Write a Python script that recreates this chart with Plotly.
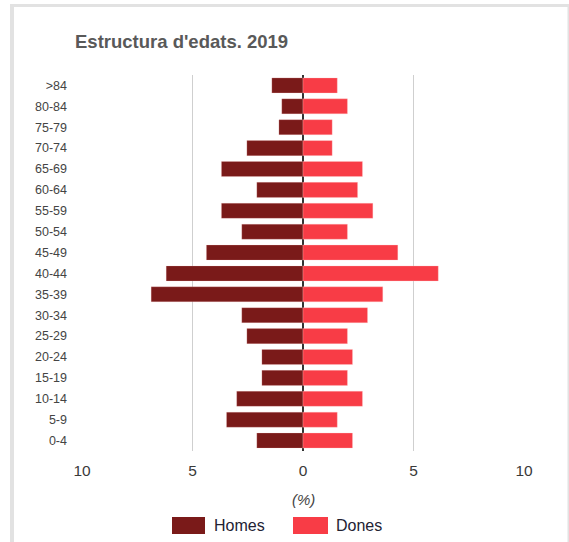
import plotly.graph_objects as go

age_groups = ["0-4", "5-9", "10-14", "15-19", "20-24", "25-29", "30-34", "35-39",
              "40-44", "45-49", "50-54", "55-59", "60-64", "65-69", "70-74",
              "75-79", "80-84", ">84"]
homes = [2.09, 3.46, 3.0, 1.86, 1.86, 2.54, 2.77, 6.87, 6.19, 4.37, 2.77, 3.69,
         2.09, 3.69, 2.54, 1.09, 0.96, 1.41]
dones = [2.24, 1.55, 2.69, 2.01, 2.24, 2.01, 2.92, 3.61, 6.12, 4.29, 2.01, 3.16,
         2.47, 2.69, 1.32, 1.32, 2.01, 1.55]
x_ticks = [-10, -5, 0, 5, 10]
x_tick_labels = ["10", "5", "0", "5", "10"]

COL_H = "#7A1A19"
COL_D = "#F83C46"
FONT = "Arial, Liberation Sans, sans-serif"

W, H = 569, 542
ML, MR, MT, MB = 82, 45, 75, 91
PW = W - ML - MR
PH = H - MT - MB

def px(x):
    return (x - ML) / PW

def py(y):
    return (H - MB - y) / PH

fig = go.Figure()
fig.add_trace(go.Bar(
    y=age_groups, x=[-v for v in homes], orientation="h", name="Homes",
    marker=dict(color=COL_H, line=dict(color="rgba(255,200,200,0.35)", width=0.6)),
    width=0.72, showlegend=False,
))
fig.add_trace(go.Bar(
    y=age_groups, x=dones, orientation="h", name="Dones",
    marker=dict(color=COL_D, line=dict(color="rgba(255,200,200,0.5)", width=0.6)),
    width=0.72, showlegend=False,
))

shapes = [
    # card border
    dict(type="rect", xref="paper", yref="paper", x0=px(10), x1=px(14), y0=py(542), y1=py(4),
         fillcolor="#e2e2e2", line=dict(width=0), layer="below"),
    dict(type="rect", xref="paper", yref="paper", x0=px(10), x1=px(569), y0=py(7), y1=py(4),
         fillcolor="#e2e2e2", line=dict(width=0), layer="below"),
    dict(type="rect", xref="paper", yref="paper", x0=px(567.5), x1=px(569), y0=py(542), y1=py(4),
         fillcolor="#e2e2e2", line=dict(width=0), layer="below"),
    # legend swatches
    dict(type="rect", xref="paper", yref="paper", x0=px(172), x1=px(205), y0=py(534), y1=py(517),
         fillcolor=COL_H, line=dict(width=0)),
    dict(type="rect", xref="paper", yref="paper", x0=px(293), x1=px(328), y0=py(534), y1=py(517),
         fillcolor=COL_D, line=dict(width=0)),
]

annotations = [
    dict(text="<i>(%)</i>", xref="paper", yref="paper", x=px(303.5), y=py(499), showarrow=False,
         font=dict(family=FONT, size=15, color="#444"), xanchor="center", yanchor="middle"),
    dict(text="Homes", xref="paper", yref="paper", x=px(212), y=py(525), showarrow=False,
         font=dict(family=FONT, size=16, color="#222233"), xanchor="left", yanchor="middle"),
    dict(text="Dones", xref="paper", yref="paper", x=px(334), y=py(525), showarrow=False,
         font=dict(family=FONT, size=16, color="#222233"), xanchor="left", yanchor="middle"),
]

fig.update_layout(
    width=W, height=H,
    margin=dict(l=ML, r=MR, t=MT, b=MB, pad=0),
    paper_bgcolor="white", plot_bgcolor="white",
    barmode="overlay", bargap=0.28,
    title=dict(text="<b>Estructura d'edats. 2019</b>", x=75 / W, xanchor="left", xref="container",
               y=1 - 42 / H, yanchor="middle", yref="container",
               font=dict(family=FONT, size=18.5, color="#595959")),
    shapes=shapes, annotations=annotations,
    font=dict(family=FONT),
)
fig.update_xaxes(range=[-10, 10], tickvals=x_ticks, ticktext=x_tick_labels,
                 showgrid=True, gridcolor="#cfcfcf", gridwidth=1.3,
                 zeroline=True, zerolinecolor="#333333", zerolinewidth=1.5,
                 showline=False, fixedrange=True,
                 tickfont=dict(family=FONT, size=15.5, color="#3a3a3a"), ticklabelstandoff=8)
fig.update_yaxes(categoryorder="array", categoryarray=age_groups, range=[-0.5, 17.5],
                 showgrid=False, zeroline=False, showline=False, fixedrange=True,
                 tickfont=dict(family=FONT, size=12.5, color="#444"), ticklabelstandoff=14)

fig.write_html("out.html", config={"displayModeBar": False, "staticPlot": True},
               post_script="document.body.style.margin='0';document.body.style.overflow='hidden';")
